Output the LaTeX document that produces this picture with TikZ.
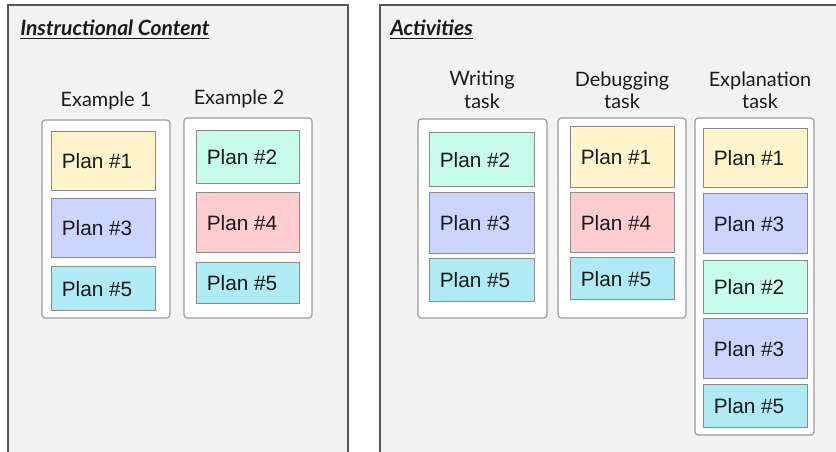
\documentclass[tikz,border=0pt]{standalone}
\usepackage{fontspec}
\setmainfont{Lato}
\newfontfamily\planfont{Liberation Sans}
\usetikzlibrary{fit}

\definecolor{panelfill}{HTML}{F2F2F2}
\definecolor{paneldraw}{HTML}{555555}
\definecolor{groupdraw}{HTML}{9A9A9A}
\definecolor{plandraw}{HTML}{8A8A8A}
\definecolor{planyellow}{HTML}{FFF4CC}
\definecolor{planlav}{HTML}{CCD5FF}
\definecolor{planmint}{HTML}{C8FBEB}
\definecolor{planpink}{HTML}{FFCCCF}
\definecolor{plancyan}{HTML}{B0EAF4}
\definecolor{labeltext}{HTML}{1A1A1A}

\tikzset{
  panel/.style={draw=paneldraw, line width=1.5pt, fill=panelfill},
  groupbox/.style={draw=groupdraw, line width=0.9pt, fill=white, rounded corners=2.5pt, inner sep=0pt},
  planbox/.style={draw=plandraw, line width=0.75pt, inner sep=0pt},
  plantext/.style={anchor=west, inner sep=0pt, font=\planfont\fontsize{15.6}{18}\selectfont, text=labeltext},
  paneltitle/.style={anchor=base west, inner sep=0pt, font=\fontsize{15.8}{18}\selectfont\bfseries\itshape, text=labeltext},
  grouplabel/.style={inner sep=0pt, align=center, font=\fontsize{14.9}{16.8}\selectfont, text=labeltext},
}

% plan card: name, x1, y1, x2, y2, fill colour, label
\newcommand\planitem[7]{%
  \node[planbox, fill=#6, fit={(#2,#3) (#4,#5)}] (#1) {};
  \node[plantext] (#1t) at ([xshift=8.25pt]#1.west) {#7};
}

\begin{document}
\begin{tikzpicture}[x=0.75pt, y=-0.75pt]
\useasboundingbox (0,0) rectangle (836,452);
\clip (0,0) rectangle (836,452);
\fill[white] (0,0) rectangle (836,452);

% the two panels run past the lower (and right) edge
\draw[panel] (8,5) rectangle (348,470);
\draw[panel] (380,5) rectangle (860,470);

\node[paneltitle] (t1) at (20,36) {\underline{Instructional Content}};
\node[paneltitle] (t2) at (390,36) {\underline{Activities}};

% ---- instructional content ----
\node[grouplabel, anchor=base] (lex1) at (106,107) {Example 1};
\node[grouplabel, anchor=base] (lex2) at (239,105) {Example 2};
\node[groupbox, fit={(42,120) (170,318)}] (ex1) {};
\node[groupbox, fit={(184,118) (312,318)}] (ex2) {};

\planitem{a1}{51}{132}{155}{191}{planyellow}{Plan \#1}
\planitem{a3}{51}{199}{155}{258}{planlav}{Plan \#3}
\planitem{a5}{51}{267}{155}{311}{plancyan}{Plan \#5}

\planitem{b2}{196}{131}{299}{184}{planmint}{Plan \#2}
\planitem{b4}{196}{193}{299}{253}{planpink}{Plan \#4}
\planitem{b5}{196}{263}{299}{304}{plancyan}{Plan \#5}

% ---- activities ----
\node[grouplabel] (lw) at (482,90) {Writing\\task};
\node[grouplabel] (ld) at (622,90) {Debugging\\task};
\node[grouplabel] (le) at (760,90) {Explanation\\task};
\node[groupbox, fit={(418,119) (547,318)}] (wt) {};
\node[groupbox, fit={(558,118) (686,318)}] (dt) {};
\node[groupbox, fit={(695,118) (814,435)}] (et) {};

\planitem{w2}{429}{133}{534}{187}{planmint}{Plan \#2}
\planitem{w3}{429}{193}{534}{254}{planlav}{Plan \#3}
\planitem{w5}{429}{259}{534}{302}{plancyan}{Plan \#5}

\planitem{d1}{570}{127}{674}{188}{planyellow}{Plan \#1}
\planitem{d4}{570}{193}{674}{253}{planpink}{Plan \#4}
\planitem{d5}{570}{258}{674}{300}{plancyan}{Plan \#5}

\planitem{e1}{703}{129}{807}{188}{planyellow}{Plan \#1}
\planitem{e3}{703}{194}{807}{254}{planlav}{Plan \#3}
\planitem{e2}{703}{261}{807}{314}{planmint}{Plan \#2}
\planitem{e3b}{703}{319}{807}{379}{planlav}{Plan \#3}
\planitem{e5}{703}{385}{807}{428}{plancyan}{Plan \#5}
\end{tikzpicture}
\end{document}
